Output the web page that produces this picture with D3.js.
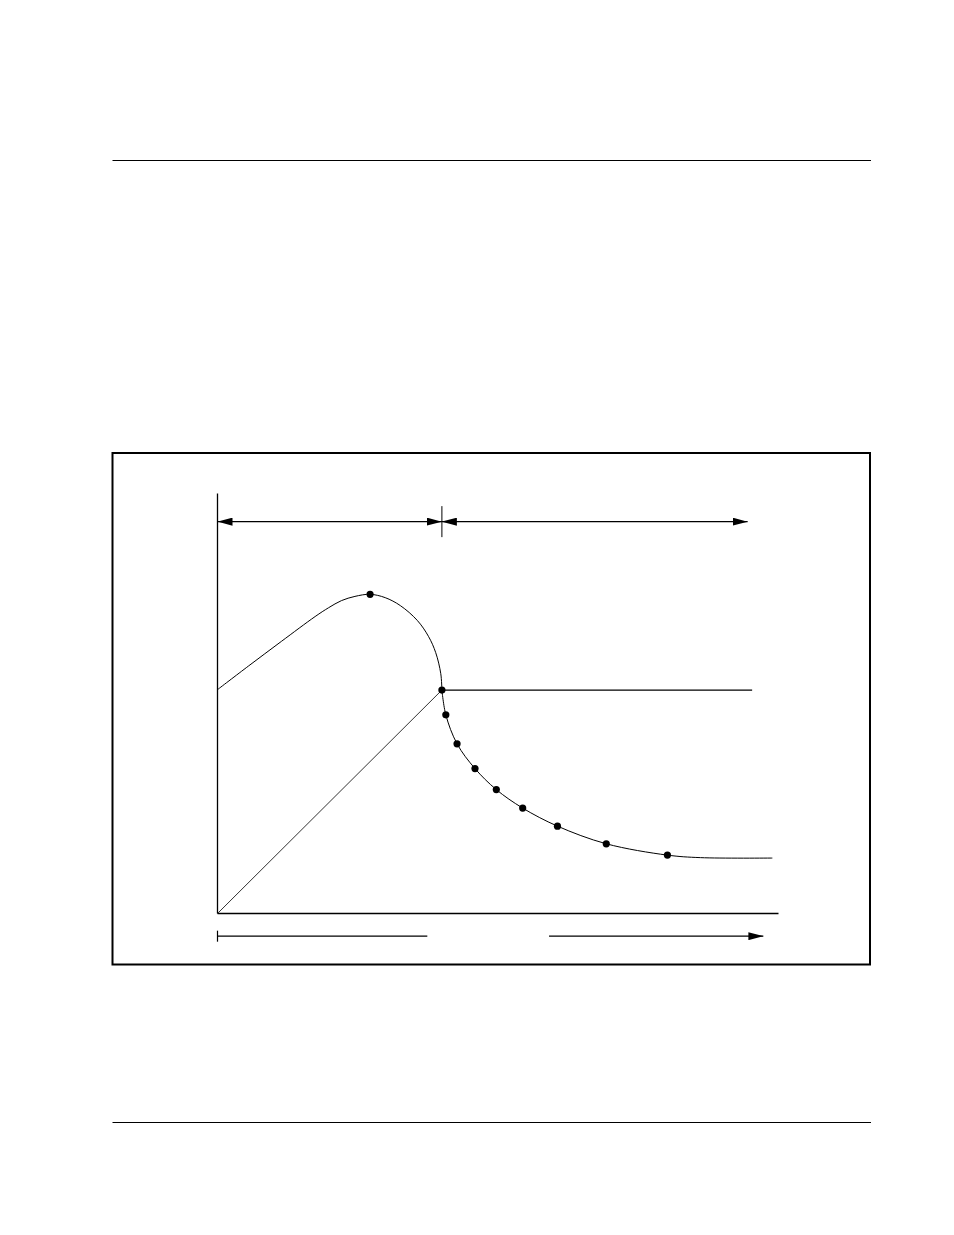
<!DOCTYPE html>
<html>
<head>
<meta charset="utf-8">
<script src="https://cdn.jsdelivr.net/npm/d3@7"></script>
<style>
html,body{margin:0;padding:0;background:#fff;}
svg{display:block;}
</style>
</head>
<body>
<svg id="chart" width="954" height="1235"></svg>
<script>
// ---- data (arbitrary units: x 0..100, y 0..100) ----
const riseCurveX = [0, 5.5, 11.4, 17.4, 19.8, 22.1, 24.5, 27.2, 29.9, 32.6, 35.6, 37.6, 38.9, 39.8, 40.0];
const riseCurveY = [53.3, 58.9, 64.8, 70.7, 72.8, 74.5, 75.5, 76.0, 75.2, 73.3, 69.8, 66.0, 62.1, 57.1, 53.2];
const decayCurveX = [40.0, 40.7, 42.7, 45.9, 49.7, 54.4, 60.6, 69.3, 80.2, 86.1, 98.9];
const decayCurveY = [53.2, 47.3, 40.4, 34.5, 29.5, 25.1, 20.8, 16.6, 13.9, 13.3, 13.2];
const peakX = [27.2];
const peakY = [76.0];
const dotX = [40.0, 40.7, 42.7, 45.9, 49.7, 54.4, 60.6, 69.3, 80.2];
const dotY = [53.2, 47.3, 40.4, 34.5, 29.5, 25.1, 20.8, 16.6, 13.9];
const rampX = [0, 40.0];
const rampY = [0, 53.2];
const plateauX = [40.0, 95.3];
const plateauY = [53.2, 53.2];
const phaseBounds = [0, 40.0, 94.5];   // top dimension arrows
const phaseLevel = 93.3;
const timeLeft = [0, 37.4];            // bottom left bar
const timeArrow = [59.1, 97.3];        // bottom arrow
const timeLevel = -5.4;

const svg = d3.select("#chart");

// page rules
svg.append("line").attr("x1",112.5).attr("x2",871).attr("y1",160.5).attr("y2",160.5).attr("stroke","#000").attr("stroke-width",1.2);
svg.append("line").attr("x1",112.5).attr("x2",871).attr("y1",1122.5).attr("y2",1122.5).attr("stroke","#000").attr("stroke-width",1.2);
// figure frame
svg.append("rect").attr("x",112.5).attr("y",453).attr("width",757.5).attr("height",511.5)
  .attr("fill","none").attr("stroke","#000").attr("stroke-width",2);

const x = d3.scaleLinear().domain([0,100]).range([217.5, 778.5]);
const y = d3.scaleLinear().domain([0,100]).range([913.5, 493.5]);

const defs = svg.append("defs");
defs.append("marker").attr("id","ah").attr("viewBox","0 0 15 8").attr("refX",15).attr("refY",4)
  .attr("markerWidth",15).attr("markerHeight",8).attr("markerUnits","userSpaceOnUse").attr("orient","auto-start-reverse")
  .append("path").attr("d","M0,0 L15,4 L0,8 Z").attr("fill","#000");

// axes
const g = svg.append("g");
g.append("line").attr("x1",x(0)).attr("x2",x(0)).attr("y1",y(0)).attr("y2",y(100)).attr("stroke","#000").attr("stroke-width",1.3);
g.append("line").attr("x1",x(0)).attr("x2",x(100)).attr("y1",y(0)).attr("y2",y(0)).attr("stroke","#000").attr("stroke-width",1.3);

// top dimension arrows
g.append("line").attr("x1",x(phaseBounds[0])).attr("x2",x(phaseBounds[1])).attr("y1",y(phaseLevel)).attr("y2",y(phaseLevel))
  .attr("stroke","#000").attr("stroke-width",1.2).attr("marker-start","url(#ah)").attr("marker-end","url(#ah)");
g.append("line").attr("x1",x(phaseBounds[1])).attr("x2",x(phaseBounds[2])).attr("y1",y(phaseLevel)).attr("y2",y(phaseLevel))
  .attr("stroke","#000").attr("stroke-width",1.2).attr("marker-start","url(#ah)").attr("marker-end","url(#ah)");
g.append("line").attr("x1",x(phaseBounds[1])).attr("x2",x(phaseBounds[1])).attr("y1",y(phaseLevel)-15.5).attr("y2",y(phaseLevel)+15.5)
  .attr("stroke","#000").attr("stroke-width",1);

// bottom time indicators
g.append("line").attr("x1",x(timeLeft[0])).attr("x2",x(timeLeft[1])).attr("y1",y(timeLevel)).attr("y2",y(timeLevel))
  .attr("stroke","#000").attr("stroke-width",1.2);
g.append("line").attr("x1",x(timeLeft[0])).attr("x2",x(timeLeft[0])).attr("y1",y(timeLevel)-5.5).attr("y2",y(timeLevel)+5.5)
  .attr("stroke","#000").attr("stroke-width",1.2);
g.append("line").attr("x1",x(timeArrow[0])).attr("x2",x(timeArrow[1])).attr("y1",y(timeLevel)).attr("y2",y(timeLevel))
  .attr("stroke","#000").attr("stroke-width",1.2).attr("marker-end","url(#ah)");

// curves
const line = d3.line().x(d=>x(d[0])).y(d=>y(d[1])).curve(d3.curveCatmullRom.alpha(0.5));
const straight = d3.line().x(d=>x(d[0])).y(d=>y(d[1]));
g.append("path").attr("d", line(d3.zip(riseCurveX, riseCurveY))).attr("fill","none").attr("stroke","#000").attr("stroke-width",1);
g.append("path").attr("d", line(d3.zip(decayCurveX, decayCurveY))).attr("fill","none").attr("stroke","#000").attr("stroke-width",1);
g.append("path").attr("d", straight(d3.zip(rampX, rampY))).attr("fill","none").attr("stroke","#333").attr("stroke-width",1);
g.append("path").attr("d", straight(d3.zip(plateauX, plateauY))).attr("fill","none").attr("stroke","#000").attr("stroke-width",1.2);

// dots
g.selectAll("circle.dot").data(d3.zip(dotX.concat(peakX), dotY.concat(peakY))).enter().append("circle")
  .attr("class","dot").attr("cx",d=>x(d[0])).attr("cy",d=>y(d[1])).attr("r",3.6).attr("fill","#000");
</script>
</body>
</html>
